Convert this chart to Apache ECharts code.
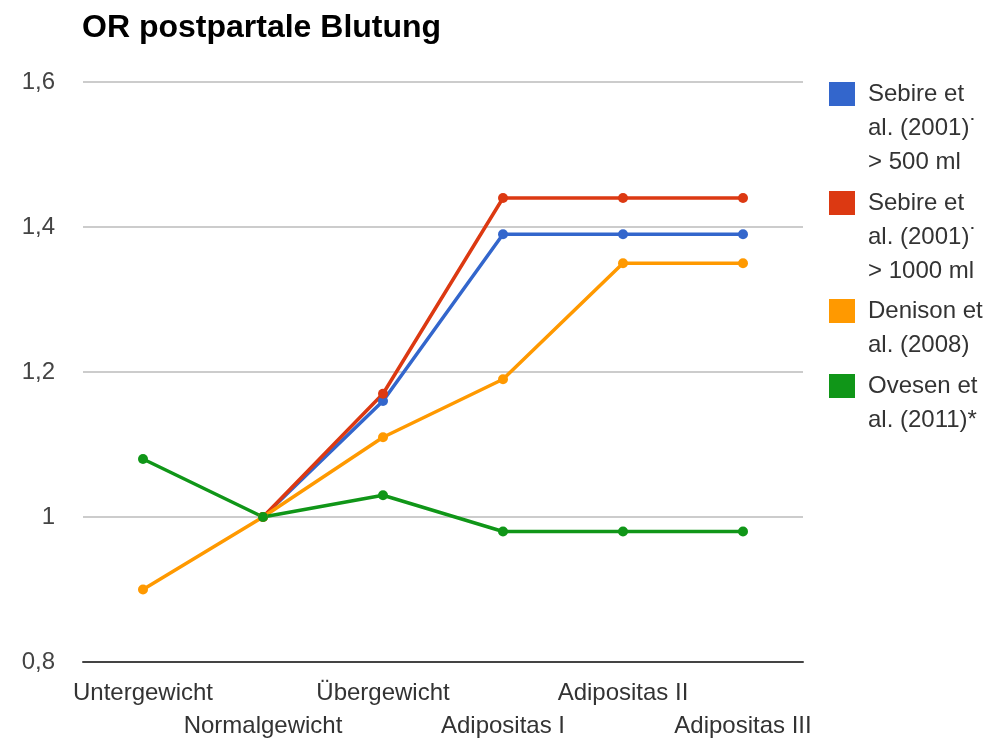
<!DOCTYPE html>
<html>
<head>
<meta charset="utf-8">
<script src="https://cdn.jsdelivr.net/npm/echarts@6/dist/echarts.min.js"></script>
<style>
  html, body { margin: 0; padding: 0; background: #fff; }
  #chart { width: 992px; height: 741px; }
</style>
</head>
<body>
<div id="chart"></div>
<script>
  // categories on the x axis
  const categories = ['Untergewicht', 'Normalgewicht', 'Übergewicht', 'Adipositas I', 'Adipositas II', 'Adipositas III'];

  // odds ratios per study
  const sebire500 = [null, 1.0, 1.16, 1.39, 1.39, 1.39];
  const sebire1000 = [null, 1.0, 1.17, 1.44, 1.44, 1.44];
  const denison = [0.9, 1.0, 1.11, 1.19, 1.35, 1.35];
  const ovesen = [1.08, 1.0, 1.03, 0.98, 0.98, 0.98];

  const yTicks = [0.8, 1.0, 1.2, 1.4, 1.6];

  const seriesNames = [
    'Sebire et al. (2001) > 500 ml',
    'Sebire et al. (2001) > 1000 ml',
    'Denison et al. (2008)',
    'Ovesen et al. (2011)*'
  ];
  // wrapped legend text, as in the picture
  const legendLines = [
    ['{t|Sebire et}', '{t|al. (2001)˙}', '{t|> 500 ml}'],
    ['{t|Sebire et}', '{t|al. (2001)˙}', '{t|> 1000 ml}'],
    ['{t|Denison et}', '{t|al. (2008)}'],
    ['{t|Ovesen et}', '{t|al. (2011)*}']
  ];
  const seriesData = [sebire500, sebire1000, denison, ovesen];
  const colors = ['#3366cc', '#dc3912', '#ff9900', '#109618'];

  const LH = 34;
  const iconW = 26, iconH = 24;
  const iconTops = [82, 191, 299, 374];

  // one legend per entry so the icon sits next to the first text line
  const legends = seriesNames.map((name, i) => {
    const n = legendLines[i].length;
    const blockTop = iconH / 2 - (2 * n - 1) * LH / 2;
    return {
      data: [name],
      orient: 'vertical',
      left: 829,
      top: iconTops[i] + blockTop,
      padding: 0,
      icon: 'rect',
      itemWidth: iconW,
      itemHeight: iconH,
      selectedMode: false,
      formatter: () => legendLines[i].join('\n'),
      textStyle: {
        fontFamily: 'Liberation Sans, Arial, sans-serif',
        fontSize: 24,
        color: '#333',
        lineHeight: LH,
        padding: [(n - 1) * LH, 0, 0, 8],
        rich: {
          t: { fontFamily: 'Liberation Sans, Arial, sans-serif', fontSize: 24, lineHeight: LH, color: '#333' }
        }
      }
    };
  });

  const chart = echarts.init(document.getElementById('chart'));
  chart.setOption({
    animation: false,
    color: colors,
    title: {
      text: 'OR postpartale Blutung',
      left: 82,
      top: 12,
      padding: 0,
      textStyle: {
        fontFamily: 'Liberation Sans, Arial, sans-serif',
        fontSize: 32,
        fontWeight: 'bold',
        color: '#000'
      }
    },
    legend: legends,
    grid: { left: 83, right: 189, top: 82, bottom: 79, outerBoundsMode: 'none' },
    xAxis: {
      type: 'category',
      data: categories,
      boundaryGap: true,
      axisTick: { show: false },
      axisLine: { show: true, lineStyle: { color: '#444', width: 2 } },
      axisLabel: {
        interval: 0,
        hideOverlap: false,
        margin: 15,
        fontFamily: 'Liberation Sans, Arial, sans-serif',
        fontSize: 24,
        lineHeight: 33,
        color: '#333',
        formatter: (v, i) => (i % 2 ? '\n' + v : v)
      }
    },
    yAxis: {
      type: 'value',
      min: yTicks[0],
      max: yTicks[yTicks.length - 1],
      interval: 0.2,
      axisLine: { show: false },
      axisTick: { show: false },
      splitLine: { lineStyle: { color: '#cccccc', width: 2 } },
      axisLabel: {
        margin: 28,
        fontFamily: 'Liberation Sans, Arial, sans-serif',
        fontSize: 24,
        color: '#444',
        formatter: v => String(+v.toFixed(1)).replace('.', ',')
      }
    },
    series: seriesNames.map((name, i) => ({
      name: name,
      type: 'line',
      data: seriesData[i],
      symbol: 'circle',
      symbolSize: 10,
      lineStyle: { width: 3.5, color: colors[i] },
      itemStyle: { color: colors[i] },
      emphasis: { disabled: true }
    }))
  });
</script>
</body>
</html>
